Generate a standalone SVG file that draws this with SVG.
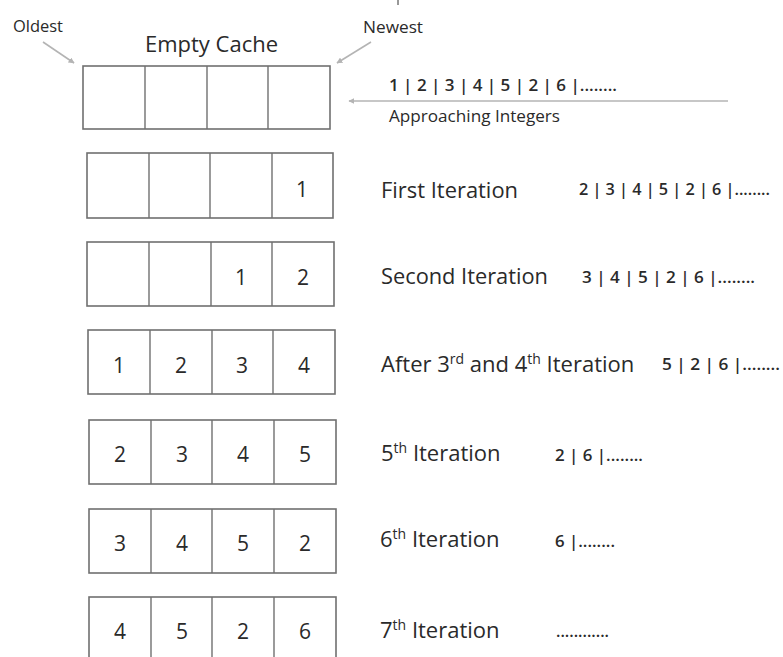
<svg xmlns="http://www.w3.org/2000/svg" width="783" height="657" viewBox="0 0 783 657">
<style>
text{font-family:"Open Sans","Liberation Sans",sans-serif;fill:#2a2a2a}
.box{fill:none;stroke:#707070;stroke-width:1.6}
.div{stroke:#707070;stroke-width:1.4}
.num{font-size:21px;text-anchor:middle}
.lbl{font-size:22px}
.seq{font-size:17px;font-weight:600}
.small{font-size:16px}
.arr{stroke:#b4b4b4;stroke-width:1.6;fill:none;marker-end:url(#ah)}
.sup{font-size:14px}
</style>
<defs>
<marker id="ah" viewBox="0 0 10 10" refX="9" refY="5" markerWidth="6" markerHeight="6" orient="auto" markerUnits="userSpaceOnUse">
<path d="M0,0 L10,5 L0,10 z" fill="#b4b4b4"/>
</marker>
</defs>
<rect width="783" height="657" fill="#ffffff"/>
<line x1="398" y1="0" x2="398" y2="5" stroke="#333" stroke-width="1"/>

<g id="header">
<text x="13" y="32" class="small" textLength="50" lengthAdjust="spacingAndGlyphs">Oldest</text>
<text x="145" y="52" font-size="22" textLength="133" lengthAdjust="spacingAndGlyphs">Empty Cache</text>
<text x="363" y="33" class="small" textLength="60" lengthAdjust="spacingAndGlyphs">Newest</text>
<text x="389" y="91" class="seq" font-size="18" textLength="228" lengthAdjust="spacingAndGlyphs">1 | 2 | 3 | 4 | 5 | 2 | 6 |........</text>
<text x="389" y="122" class="small" textLength="171" lengthAdjust="spacingAndGlyphs">Approaching Integers</text>
</g>

<g id="connectors">
<line class="arr" x1="43" y1="42" x2="74" y2="63"/>
<line class="arr" x1="371" y1="42" x2="337" y2="63"/>
<line class="arr" x1="728" y1="101" x2="349" y2="101"/>
</g>

<g id="row0">
<rect class="box" x="83" y="66" width="247" height="63"/>
<line class="div" x1="145" y1="66" x2="145" y2="129"/>
<line class="div" x1="207" y1="66" x2="207" y2="129"/>
<line class="div" x1="268" y1="66" x2="268" y2="129"/>
</g>

<g id="row1">
<rect class="box" x="87" y="153" width="246" height="65"/>
<line class="div" x1="149" y1="153" x2="149" y2="218"/>
<line class="div" x1="210" y1="153" x2="210" y2="218"/>
<line class="div" x1="272" y1="153" x2="272" y2="218"/>
<text class="num" x="302" y="197">1</text>
<text class="lbl" x="381" y="198" textLength="137" lengthAdjust="spacingAndGlyphs">First Iteration</text>
<text class="seq" x="579" y="195" textLength="191" lengthAdjust="spacingAndGlyphs">2 | 3 | 4 | 5 | 2 | 6 |........</text>
</g>

<g id="row2">
<rect class="box" x="87" y="242" width="247" height="64"/>
<line class="div" x1="149" y1="242" x2="149" y2="306"/>
<line class="div" x1="211" y1="242" x2="211" y2="306"/>
<line class="div" x1="272" y1="242" x2="272" y2="306"/>
<text class="num" x="241" y="285">1</text>
<text class="num" x="303" y="285">2</text>
<text class="lbl" x="381" y="284" textLength="167" lengthAdjust="spacingAndGlyphs">Second Iteration</text>
<text class="seq" x="582" y="283" textLength="173" lengthAdjust="spacingAndGlyphs">3 | 4 | 5 | 2 | 6 |........</text>
</g>

<g id="row3">
<rect class="box" x="88" y="330" width="247" height="64"/>
<line class="div" x1="150" y1="330" x2="150" y2="394"/>
<line class="div" x1="212" y1="330" x2="212" y2="394"/>
<line class="div" x1="273" y1="330" x2="273" y2="394"/>
<text class="num" x="119" y="373">1</text>
<text class="num" x="181" y="373">2</text>
<text class="num" x="242" y="373">3</text>
<text class="num" x="304" y="373">4</text>
<text class="lbl" x="381" y="372">After 3<tspan class="sup" dy="-8">rd</tspan><tspan dy="8"> and 4</tspan><tspan class="sup" dy="-8">th</tspan><tspan dy="8"> Iteration</tspan></text>
<text class="seq" x="662" y="370" textLength="118" lengthAdjust="spacingAndGlyphs">5 | 2 | 6 |........</text>
</g>

<g id="row4">
<rect class="box" x="89" y="420" width="247" height="64"/>
<line class="div" x1="151" y1="420" x2="151" y2="484"/>
<line class="div" x1="212" y1="420" x2="212" y2="484"/>
<line class="div" x1="274" y1="420" x2="274" y2="484"/>
<text class="num" x="120" y="462">2</text>
<text class="num" x="182" y="462">3</text>
<text class="num" x="243" y="462">4</text>
<text class="num" x="305" y="462">5</text>
<text class="lbl" x="381" y="461">5<tspan class="sup" dy="-8">th</tspan><tspan dy="8"> Iteration</tspan></text>
<text class="seq" x="555" y="461" textLength="88" lengthAdjust="spacingAndGlyphs">2 | 6 |........</text>
</g>

<g id="row5">
<rect class="box" x="89" y="509" width="247" height="64"/>
<line class="div" x1="151" y1="509" x2="151" y2="573"/>
<line class="div" x1="212" y1="509" x2="212" y2="573"/>
<line class="div" x1="274" y1="509" x2="274" y2="573"/>
<text class="num" x="120" y="551">3</text>
<text class="num" x="182" y="551">4</text>
<text class="num" x="243" y="551">5</text>
<text class="num" x="305" y="551">2</text>
<text class="lbl" x="380" y="547">6<tspan class="sup" dy="-8">th</tspan><tspan dy="8"> Iteration</tspan></text>
<text class="seq" x="555" y="547" textLength="60" lengthAdjust="spacingAndGlyphs">6 |........</text>
</g>

<g id="row6">
<rect class="box" x="89" y="597" width="247" height="64"/>
<line class="div" x1="151" y1="597" x2="151" y2="661"/>
<line class="div" x1="212" y1="597" x2="212" y2="661"/>
<line class="div" x1="274" y1="597" x2="274" y2="661"/>
<text class="num" x="120" y="639">4</text>
<text class="num" x="182" y="639">5</text>
<text class="num" x="243" y="639">2</text>
<text class="num" x="305" y="639">6</text>
<text class="lbl" x="380" y="638">7<tspan class="sup" dy="-8">th</tspan><tspan dy="8"> Iteration</tspan></text>
<text class="seq" x="556" y="637" textLength="53" lengthAdjust="spacingAndGlyphs">............</text>
</g>
</svg>
